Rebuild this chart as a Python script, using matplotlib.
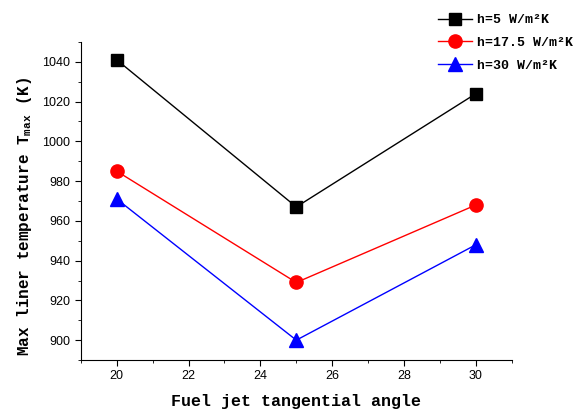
import numpy as np
import matplotlib
matplotlib.use('Agg')
import matplotlib.pyplot as plt
from matplotlib.ticker import MultipleLocator

# jet angle (deg) vs. peak liner temperature for three heat transfer coefficients
angles = [20, 25, 30]
t_h5 = [1041, 967, 1024]
t_h17 = [985, 929, 968]
t_h30 = [971, 900, 948]
labels = ['h=5 W/m\u00b2K', 'h=17.5 W/m\u00b2K', 'h=30 W/m\u00b2K']

plt.rcParams['mathtext.default'] = 'regular'

fig = plt.figure(figsize=(5.81, 4.11), dpi=100)
ax = fig.add_axes([0.139, 0.124, 0.742, 0.774])

ax.plot(angles, t_h5, color='black', marker='s', markersize=8.5, linewidth=1.0, label=labels[0])
ax.plot(angles, t_h17, color='red', marker='o', markersize=9.5, linewidth=1.0, label=labels[1])
ax.plot(angles, t_h30, color='blue', marker='^', markersize=10, linewidth=1.0, label=labels[2])

ax.set_xlim(19, 31)
ax.set_ylim(890, 1050)
ax.xaxis.set_major_locator(MultipleLocator(2))
ax.xaxis.set_minor_locator(MultipleLocator(1))
ax.yaxis.set_major_locator(MultipleLocator(20))
ax.yaxis.set_minor_locator(MultipleLocator(10))

for s in ['top', 'right']:
    ax.spines[s].set_visible(False)
ax.tick_params(which='both', direction='out', labelsize=9)
ax.tick_params(which='major', length=4)
ax.tick_params(which='minor', length=2.5)
for lab in ax.get_xticklabels() + ax.get_yticklabels():
    lab.set_family('Liberation Sans')

mono = {'family': 'Liberation Mono', 'weight': 'bold'}
ax.set_xlabel('Fuel jet tangential angle', fontdict=dict(mono, size=12), labelpad=8)
ax.set_ylabel('Max liner temperature T$_{max}$ (K)', fontdict=dict(mono, size=11.5))
ax.yaxis.set_label_coords(-0.109, 0.453)

fig.legend(loc='upper right', bbox_to_anchor=(1.0, 0.985), frameon=False,
           prop=dict(family='Liberation Mono', weight='bold', size=9.5),
           handlelength=2.6, handletextpad=0.4, labelspacing=0.8, borderaxespad=0.2)

fig.savefig('out.png', dpi=100)
